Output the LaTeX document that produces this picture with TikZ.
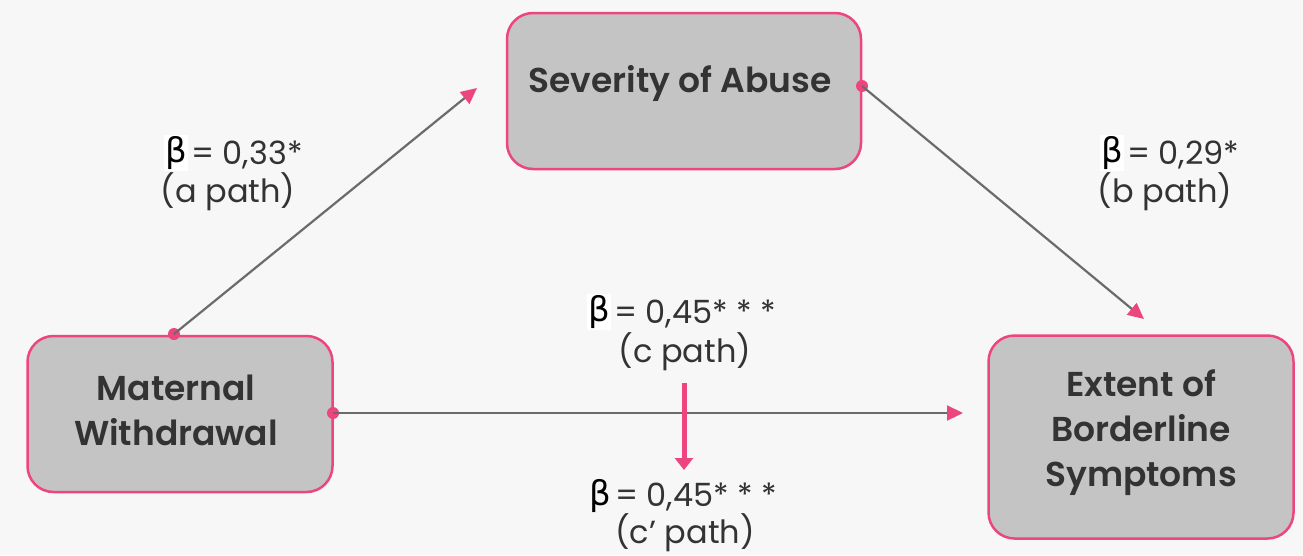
\documentclass[tikz,border=0pt]{standalone}
\usepackage{fontspec}
\setmainfont{Poppins}[BoldFont={Poppins SemiBold}]
\newfontfamily\greekfont{DejaVu Sans}
\usetikzlibrary{arrows.meta}
\definecolor{pinkc}{HTML}{EC4580}
\definecolor{boxfill}{HTML}{C4C4C4}
\definecolor{linec}{HTML}{6B6B6B}
\definecolor{txt}{HTML}{333333}
\definecolor{bgc}{HTML}{F7F7F7}
\tikzset{
  varbox/.style={draw=pinkc, line width=2.5pt, fill=boxfill, rounded corners=26pt, inner sep=0pt},
  vartext/.style={text=txt, font=\fontsize{34.5}{45}\selectfont\bfseries, align=center, inner sep=0pt},
  conn/.style={draw=linec, line width=2.2pt, -{Triangle[length=16pt,width=15pt,color=pinkc]}},
  dotc/.style={circle, fill=pinkc, inner sep=0pt, minimum size=12pt},
  lab/.style={text=txt, font=\fontsize{32}{38}\selectfont, align=center, inner sep=0pt},
  betab/.style={fill=white, inner sep=1pt, text=black, font=\greekfont\fontsize{34}{34}\selectfont}
}
\begin{document}
\begin{tikzpicture}[x=1pt,y=-1pt]
\useasboundingbox (0,0) rectangle (1303,555);
\fill[bgc] (0,0) rectangle (1303,555);
% boxes
\node[varbox, minimum width=354pt, minimum height=156pt] (sev) at (684,91) {};
\node[vartext] (sevt) at (680,83) {Severity of Abuse};
\node[varbox, minimum width=305pt, minimum height=156pt] (mat) at (180,414) {};
\node[vartext] (matt) at (176,410) {Maternal\\Withdrawal};
\node[varbox, minimum width=305pt, minimum height=203pt] (ext) at (1141,437) {};
\node[vartext] (extt) at (1141,433) {Extent of\\Borderline\\Symptoms};
% dots and tips
\node[dotc] (d1) at (174,334) {};
\node[dotc] (d2) at (862,86) {};
\node[dotc] (d3) at (333,413) {};
\coordinate (t1) at (477,88);
\coordinate (t2) at (1144,319);
\coordinate (t3) at (963,413);
\draw[conn] (d1.center) -- (t1);
\draw[conn] (d2.center) -- (t2);
\draw[conn] (d3.center) -- (t3);
% labels
\node[betab] (ba) at (176,153) {β};
\node[lab, anchor=west] (la) at (191,155) {= 0,33*};
\node[lab] (pa) at (228,192) {(a path)};
\node[betab] (bb) at (1112,153) {β};
\node[lab, anchor=west] (lb) at (1127,155) {= 0,29*};
\node[lab] (pb) at (1165,192) {(b path)};
\node[betab] (bc) at (599,312) {β};
\node[lab, anchor=west] (lc) at (614,314) {= 0,45* * *};
\node[lab] (pc) at (685,352) {(c path)};
\node[betab, fill=none] (bd) at (600,496) {β};
\node[lab, anchor=west] (ld) at (615,497) {= 0,45* * *};
\node[lab] (pd) at (685,533) {(c’ path)};
% pink arrow
\coordinate (pa1) at (684,383);
\coordinate (pa2) at (684,470);
\draw[draw=pinkc, line width=5pt, -{Triangle[length=12pt,width=18pt]}] (pa1) -- (pa2);
\end{tikzpicture}
\end{document}
